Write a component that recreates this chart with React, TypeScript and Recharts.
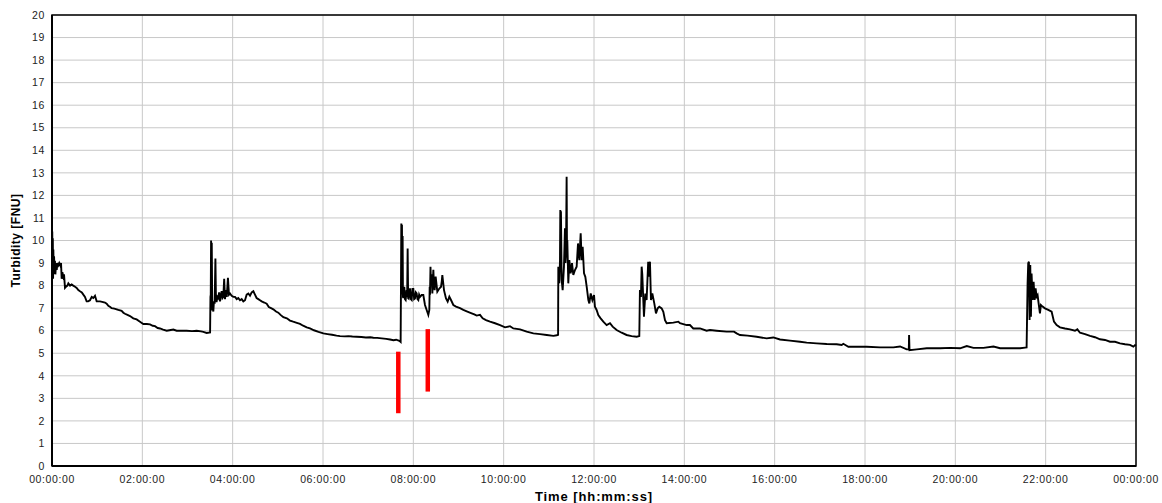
import React from "react";
import {
  LineChart,
  Line,
  XAxis,
  YAxis,
  CartesianGrid,
  ReferenceLine,
  ReferenceArea,
  Label,
} from "recharts";

// Each sample: [hours since midnight, turbidity in FNU]
type Sample = [number, number];

const startupSamples: Sample[] = [
  [0.0, 8.0], [0.006, 10.4], [0.012, 8.6], [0.018, 10.1], [0.024, 8.3], [0.03, 9.6],
  [0.038, 8.5], [0.046, 9.3], [0.055, 8.6], [0.065, 9.1], [0.075, 8.5], [0.09, 9.0],
  [0.105, 8.7], [0.12, 9.0], [0.14, 8.9], [0.16, 9.0], [0.18, 8.9], [0.2, 9.0],
  [0.214, 8.3], [0.23, 8.6], [0.25, 8.4], [0.266, 8.5], [0.288, 7.9], [0.31, 7.95],
  [0.34, 8.0], [0.362, 8.1], [0.4, 8.0], [0.435, 8.05], [0.47, 8.0], [0.51, 7.95],
  [0.546, 7.9], [0.583, 7.8], [0.62, 7.75], [0.66, 7.7], [0.694, 7.6], [0.73, 7.5],
  [0.767, 7.3], [0.8, 7.3], [0.841, 7.35], [0.88, 7.5], [0.915, 7.45], [0.952, 7.55],
  [0.989, 7.3], [1.03, 7.3], [1.063, 7.3], [1.11, 7.28], [1.173, 7.25], [1.21, 7.2],
  [1.247, 7.1], [1.29, 7.05], [1.321, 7.0], [1.38, 6.98], [1.432, 6.95], [1.468, 6.92],
  [1.542, 6.88], [1.58, 6.8], [1.616, 6.75], [1.67, 6.7], [1.727, 6.65], [1.8, 6.55],
  [1.874, 6.5], [1.948, 6.4], [2.022, 6.3], [2.1, 6.3], [2.17, 6.28], [2.23, 6.22],
  [2.28, 6.2], [2.34, 6.12], [2.391, 6.1], [2.46, 6.05], [2.539, 6.0], [2.6, 6.02],
  [2.686, 6.05], [2.76, 6.0], [2.85, 6.0], [2.981, 6.0], [3.1, 5.98], [3.203, 6.0],
  [3.3, 5.97], [3.351, 5.95], [3.424, 5.9], [3.5, 5.92],
];

const earlyEventSamples: Sample[] = [
  [3.508, 7.5], [3.515, 7.6], [3.522, 10.0], [3.53, 7.4], [3.537, 9.9], [3.548, 6.9],
  [3.558, 7.1], [3.572, 6.85], [3.585, 7.3], [3.601, 7.2], [3.618, 9.2], [3.631, 7.3],
  [3.646, 7.3], [3.664, 7.5], [3.682, 7.45], [3.7, 7.7], [3.719, 7.3], [3.74, 7.6],
  [3.756, 7.75], [3.775, 7.45], [3.793, 7.5], [3.812, 8.3], [3.83, 7.4], [3.852, 7.8],
  [3.87, 7.5], [3.895, 8.35], [3.918, 7.6], [3.941, 7.65], [3.978, 7.55], [4.015, 7.5],
  [4.052, 7.5], [4.09, 7.4], [4.125, 7.45], [4.162, 7.35], [4.199, 7.4], [4.236, 7.3],
  [4.273, 7.35], [4.31, 7.6], [4.347, 7.65], [4.384, 7.55], [4.421, 7.7], [4.458, 7.75],
  [4.494, 7.6], [4.53, 7.45], [4.568, 7.4], [4.605, 7.35], [4.642, 7.3], [4.7, 7.25],
  [4.753, 7.2], [4.8, 7.05], [4.85, 7.0], [4.9, 6.95], [4.96, 6.85], [5.011, 6.8],
  [5.06, 6.7], [5.122, 6.6], [5.2, 6.55], [5.269, 6.45], [5.34, 6.4], [5.42, 6.35],
  [5.491, 6.3], [5.56, 6.22], [5.64, 6.15], [5.712, 6.1], [5.8, 6.02], [5.9, 5.95],
  [6.008, 5.88], [6.1, 5.85], [6.2, 5.82], [6.3, 5.78], [6.377, 5.76], [6.48, 5.75],
  [6.56, 5.76], [6.65, 5.74], [6.746, 5.73], [6.85, 5.72], [6.95, 5.7], [7.05, 5.71],
  [7.115, 5.69], [7.2, 5.68], [7.3, 5.66], [7.4, 5.64], [7.484, 5.61], [7.56, 5.58],
  [7.62, 5.6], [7.69, 5.55], [7.719, 5.5],
];

const morningEventSamples: Sample[] = [
  [7.726, 7.9], [7.734, 10.75], [7.741, 7.6], [7.748, 10.7], [7.756, 8.0], [7.763, 10.2],
  [7.77, 7.5], [7.778, 7.45], [7.8, 7.95], [7.815, 7.4], [7.83, 7.36], [7.852, 7.8],
  [7.863, 7.5], [7.874, 9.65], [7.885, 7.45], [7.896, 7.43], [7.926, 7.88], [7.945, 7.4],
  [7.963, 7.36], [7.98, 7.85], [8.0, 7.85], [8.018, 7.4], [8.036, 7.43], [8.055, 7.7],
  [8.073, 7.65], [8.092, 7.4], [8.11, 7.36], [8.128, 7.6], [8.147, 7.5], [8.184, 7.58],
  [8.221, 7.58], [8.258, 7.14], [8.295, 6.92], [8.332, 6.7], [8.354, 6.92], [8.362, 7.95],
  [8.369, 7.6], [8.38, 8.84], [8.391, 8.0], [8.405, 8.5], [8.421, 7.65], [8.443, 8.7],
  [8.46, 7.9], [8.472, 7.8], [8.494, 8.4], [8.531, 7.73], [8.568, 7.85], [8.613, 7.95],
  [8.63, 8.2], [8.642, 8.47], [8.679, 7.8], [8.723, 7.43], [8.76, 7.29], [8.797, 7.51],
  [8.834, 7.36], [8.886, 7.14], [8.945, 7.07], [9.033, 7.0], [9.107, 6.92], [9.196, 6.85],
  [9.292, 6.77], [9.35, 6.72], [9.402, 6.67], [9.476, 6.7], [9.535, 6.55], [9.609, 6.47],
  [9.698, 6.4], [9.809, 6.33], [9.92, 6.25], [10.031, 6.15], [10.14, 6.2], [10.215, 6.1],
  [10.363, 6.06], [10.51, 5.96], [10.658, 5.88], [10.806, 5.85], [10.954, 5.81],
  [11.101, 5.77], [11.175, 5.8], [11.205, 5.82],
];

const middayEventSamples: Sample[] = [
  [11.21, 8.84], [11.232, 8.1], [11.247, 9.1], [11.254, 11.35], [11.261, 8.9],
  [11.268, 11.3], [11.284, 8.25], [11.306, 7.8], [11.335, 8.84], [11.357, 10.54],
  [11.368, 9.0], [11.38, 9.43], [11.394, 12.83], [11.402, 9.6], [11.409, 10.02],
  [11.431, 8.1], [11.454, 9.13], [11.483, 8.54], [11.513, 9.0], [11.542, 8.47],
  [11.579, 8.69], [11.616, 8.84], [11.646, 9.87], [11.675, 9.13], [11.705, 10.32],
  [11.727, 9.13], [11.749, 9.72], [11.779, 8.54], [11.808, 8.39], [11.838, 7.95],
  [11.875, 7.36], [11.897, 7.21], [11.927, 7.65], [11.964, 7.36], [12.0, 7.58],
  [12.021, 7.06], [12.058, 6.92], [12.095, 6.69], [12.147, 6.55], [12.206, 6.4],
  [12.28, 6.25], [12.354, 6.33], [12.413, 6.18], [12.501, 6.03], [12.612, 5.91],
  [12.722, 5.81], [12.833, 5.76], [12.944, 5.73], [13.003, 5.76],
];

const afternoonEventSamples: Sample[] = [
  [13.017, 7.8], [13.04, 7.5], [13.055, 8.84], [13.069, 8.5], [13.106, 6.62],
  [13.136, 7.65], [13.165, 7.36], [13.2, 9.06], [13.21, 8.4], [13.239, 9.06],
  [13.261, 7.36], [13.291, 7.65], [13.335, 7.21], [13.372, 6.77], [13.409, 6.99],
  [13.446, 7.06], [13.498, 6.99], [13.535, 6.84], [13.572, 6.47], [13.609, 6.33],
  [13.756, 6.36], [13.867, 6.4], [13.903, 6.33], [14.052, 6.25], [14.124, 6.25],
  [14.198, 6.1], [14.347, 6.1], [14.493, 6.0], [14.569, 6.03], [14.714, 6.0],
  [14.936, 5.96], [15.1, 5.96], [15.158, 5.88], [15.232, 5.81], [15.4, 5.78],
  [15.601, 5.73], [15.822, 5.66], [15.97, 5.7], [16.118, 5.61], [16.339, 5.56],
  [16.561, 5.51], [16.709, 5.47], [16.93, 5.44], [17.152, 5.41], [17.373, 5.4],
  [17.484, 5.37], [17.52, 5.42], [17.632, 5.29], [18.038, 5.29], [18.333, 5.26],
  [18.629, 5.26], [18.776, 5.3], [18.924, 5.17], [18.97, 5.17], [18.976, 5.81],
  [18.985, 5.14], [19.146, 5.17], [19.367, 5.22], [19.662, 5.22], [19.884, 5.24],
  [20.105, 5.22], [20.253, 5.32], [20.401, 5.24], [20.622, 5.24], [20.844, 5.3],
  [20.991, 5.22], [21.213, 5.22], [21.434, 5.22], [21.545, 5.25], [21.578, 5.26],
];

const eveningEventSamples: Sample[] = [
  [21.6, 8.1], [21.614, 8.99], [21.629, 9.06], [21.644, 6.47], [21.659, 8.91],
  [21.674, 6.62], [21.688, 8.54], [21.71, 7.36], [21.733, 8.17], [21.755, 7.36],
  [21.777, 7.88], [21.799, 7.51], [21.821, 7.58], [21.844, 7.21], [21.873, 6.77],
  [21.895, 7.14], [21.932, 7.07], [21.984, 6.99], [22.058, 6.92], [22.132, 6.84],
  [22.184, 6.4], [22.243, 6.25], [22.317, 6.15], [22.428, 6.1], [22.538, 6.06],
  [22.649, 6.0], [22.701, 6.06], [22.76, 5.91], [22.871, 5.85], [22.982, 5.77],
  [23.092, 5.71], [23.203, 5.62], [23.314, 5.59], [23.424, 5.51], [23.535, 5.51],
  [23.646, 5.44], [23.757, 5.4], [23.867, 5.37], [23.941, 5.29], [23.978, 5.36],
  [24.0, 5.33],
];

// Red event markers: hour position and vertical extent in FNU
const markerTimes = [7.667, 8.32];
const markerLows = [2.34, 3.3];
const markerHighs = [5.07, 6.07];

const timeTicks = [0, 2, 4, 6, 8, 10, 12, 14, 16, 18, 20, 22, 24];
const timeTickLabels = [
  "00:00:00", "02:00:00", "04:00:00", "06:00:00", "08:00:00", "10:00:00", "12:00:00",
  "14:00:00", "16:00:00", "18:00:00", "20:00:00", "22:00:00", "00:00:00",
];
const turbidityTicks = [0, 1, 2, 3, 4, 5, 6, 7, 8, 9, 10, 11, 12, 13, 14, 15, 16, 17, 18, 19, 20];

const chartData = [
  ...startupSamples,
  ...earlyEventSamples,
  ...morningEventSamples,
  ...middayEventSamples,
  ...afternoonEventSamples,
  ...eveningEventSamples,
].map(([t, v]) => ({ t, v }));

const tickStyle = {
  fontSize: 10.5,
  fill: "#222",
  fontFamily: "'Liberation Sans', Arial, sans-serif",
  letterSpacing: 0.6,
};

const titleFont = "'Liberation Sans', Arial, sans-serif";

export default function App() {
  return (
    <div style={{ position: "absolute", left: 0, top: 0, width: 1162, height: 503, background: "#fff" }}>
      <LineChart
        width={1162}
        height={503}
        data={chartData}
        margin={{ top: 15, right: 26, bottom: 0, left: 0 }}
      >
        <CartesianGrid stroke="#c8c8c8" strokeWidth={1} />
        <XAxis
          dataKey="t"
          type="number"
          domain={[0, 24]}
          ticks={timeTicks}
          interval={0}
          height={37}
          tickLine={false}
          tickSize={6}
          tickMargin={4}
          axisLine={{ stroke: "#000", strokeWidth: 2 }}
          tick={tickStyle}
          tickFormatter={(_v: number, i: number) => timeTickLabels[i]}
        >
          <Label
            value="Time [hh:mm:ss]"
            position="insideBottom"
            offset={2}
            style={{ fontFamily: titleFont, fontWeight: "bold", fontSize: 13, letterSpacing: 0.9, fill: "#000" }}
          />
        </XAxis>
        <YAxis
          type="number"
          domain={[0, 20]}
          ticks={turbidityTicks}
          interval={0}
          width={52}
          tickLine={false}
          tickSize={5}
          tickMargin={2}
          axisLine={{ stroke: "#000", strokeWidth: 2 }}
          tick={tickStyle}
        >
          <Label
            value="Turbidity [FNU]"
            angle={-90}
            position="insideLeft"
            offset={16}
            style={{ textAnchor: "middle", fontFamily: titleFont, fontWeight: "bold", fontSize: 12, letterSpacing: 0.5, fill: "#000" }}
          />
        </YAxis>
        <ReferenceArea x1={0} x2={24} y1={0} y2={20} fill="none" stroke="#000" strokeWidth={1.5} />
        <Line
          dataKey="v"
          type="linear"
          stroke="#000"
          strokeWidth={1.9}
          strokeLinejoin="miter"
          dot={false}
          activeDot={false}
          isAnimationActive={false}
        />
        {markerTimes.map((t, i) => (
          <ReferenceLine
            key={i}
            segment={[
              { x: t, y: markerLows[i] },
              { x: t, y: markerHighs[i] },
            ]}
            stroke="#ff0000"
            strokeWidth={4.5}
          />
        ))}
      </LineChart>
    </div>
  );
}
